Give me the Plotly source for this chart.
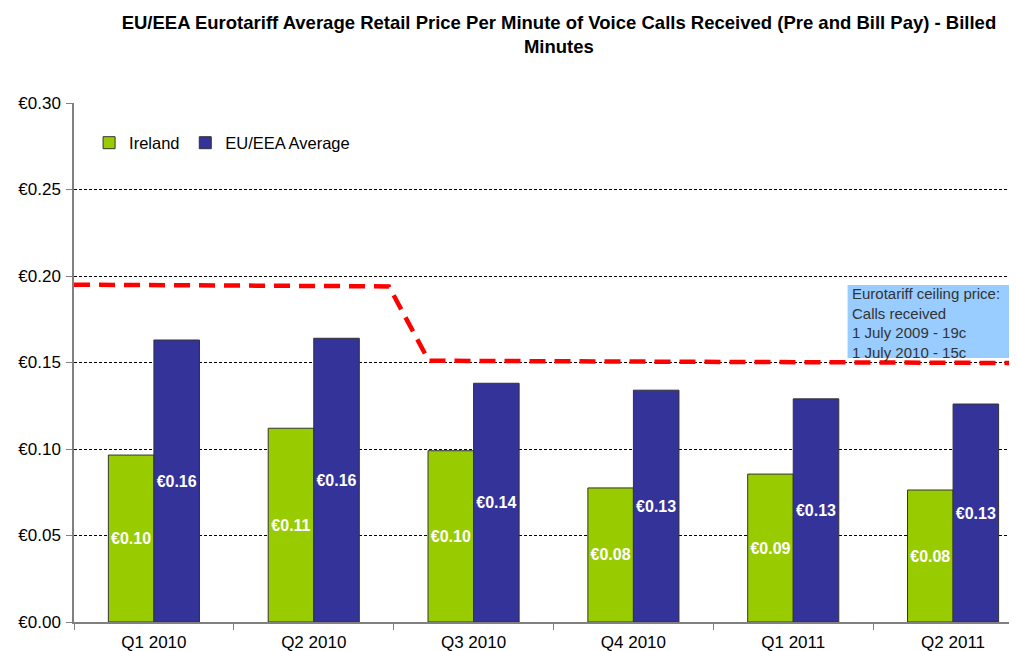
import plotly.graph_objects as go

quarters = ["Q1 2010", "Q2 2010", "Q3 2010", "Q4 2010", "Q1 2011", "Q2 2011"]
ireland = [0.0965, 0.112, 0.099, 0.0775, 0.0855, 0.0763]
eu_avg = [0.163, 0.164, 0.138, 0.134, 0.129, 0.126]

# ceiling price line (position along the quarter axis, price)
ceiling_x = [-0.5, 1.47, 1.72, 5.4]
ceiling_y = [0.195, 0.194, 0.151, 0.1497]

note_text = ("Eurotariff ceiling price:<br>Calls received<br>"
             "1 July 2009 - 19c<br>1 July 2010 - 15c")

FONT = "Liberation Sans, Arial"
label_font = dict(color="white", size=16, family=FONT, weight="bold")

fig = go.Figure()
fig.add_trace(go.Bar(
    x=quarters, y=ireland, name="Ireland", legend="legend",
    marker=dict(color="#99cc00", line=dict(color="#333333", width=1)),
    texttemplate="€%{y:.2f}", textposition="inside", insidetextanchor="middle",
    textangle=0, constraintext="none", textfont=label_font,
))
fig.add_trace(go.Bar(
    x=quarters, y=eu_avg, name="EU/EEA Average", legend="legend2",
    marker=dict(color="#333399", line=dict(color="#333333", width=1)),
    texttemplate="€%{y:.2f}", textposition="inside", insidetextanchor="middle",
    textangle=0, constraintext="none", textfont=label_font,
))
fig.add_trace(go.Scatter(
    x=ceiling_x, y=ceiling_y, xaxis="x2", mode="lines", showlegend=False,
    line=dict(color="#ff0000", width=4.5, dash="16px,9px"),
))

fig.add_shape(type="rect", xref="x2", yref="y", x0=4.34, x1=5.4, y0=0.1526, y1=0.1948,
              fillcolor="#99ccff", line=dict(width=0), layer="below")
fig.add_annotation(xref="x2", yref="y", x=4.355, y=0.1962, xanchor="left", yanchor="top",
                   text=note_text, showarrow=False, align="left",
                   font=dict(size=15, family=FONT, color="#333333"))

leg = dict(orientation="h", yanchor="middle", xanchor="left", y=0.923,
           font=dict(size=16.5), bgcolor="rgba(0,0,0,0)", itemwidth=30)

fig.update_layout(
    width=1009, height=643,
    margin=dict(l=66, r=0, t=95, b=29),
    paper_bgcolor="white", plot_bgcolor="white",
    barmode="group", bargap=0.43, bargroupgap=0,
    title=dict(
        text="<b>EU/EEA Eurotariff Average Retail Price Per Minute of Voice Calls Received (Pre and Bill Pay) - Billed<br>Minutes</b>",
        x=0.546, xanchor="center", y=0.968, yanchor="top",
        font=dict(size=18.5, family=FONT, color="black"),
    ),
    font=dict(family=FONT, color="black"),
    legend=dict(leg, x=0.016),
    legend2=dict(leg, x=0.118),
    xaxis=dict(
        type="category", range=[-0.5, 5.4], tickson="boundaries",
        ticks="outside", ticklen=6, tickcolor="#808080",
        showline=True, linecolor="#808080", linewidth=1.5,
        tickfont=dict(size=17), showgrid=False, ticklabelstandoff=4,
    ),
    xaxis2=dict(overlaying="x", range=[-0.5, 5.4], visible=False),
    yaxis=dict(
        range=[0, 0.30], dtick=0.05, tickprefix="€", tickformat=".2f",
        ticks="outside", ticklen=6, tickcolor="#808080",
        showline=True, linecolor="#808080", linewidth=1.5,
        gridcolor="black", gridwidth=0.6, griddash="3px,2px",
        tickfont=dict(size=17), zeroline=False, ticklabelstandoff=2,
    ),
)

fig.write_html("out.html")
